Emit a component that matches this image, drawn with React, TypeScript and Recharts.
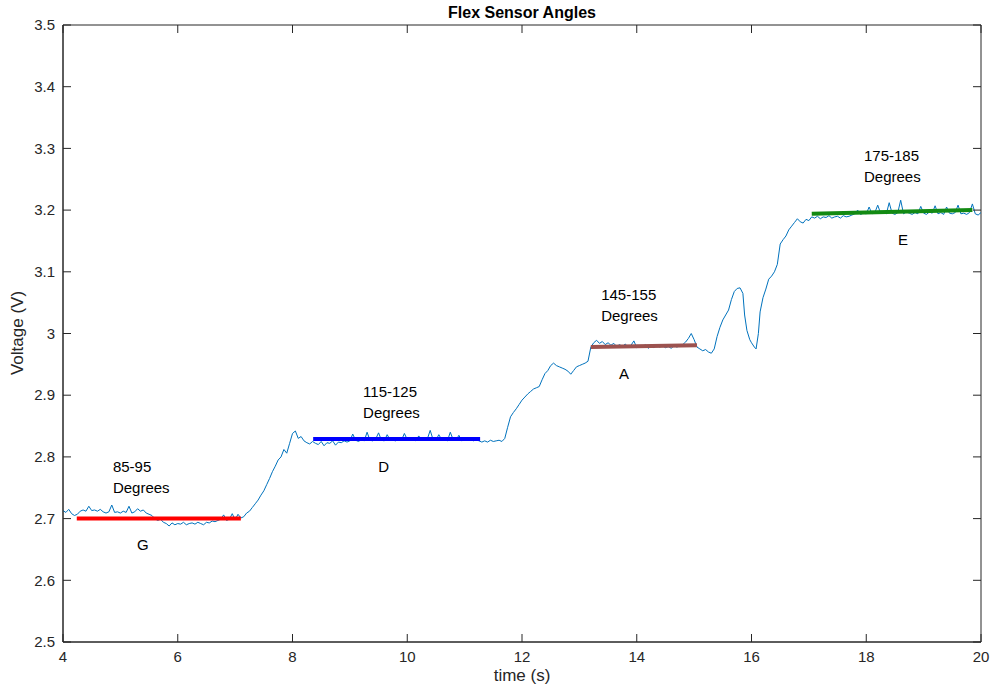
import { ComposedChart, Line, XAxis, YAxis, ReferenceDot, ReferenceArea } from "recharts";

const xTicks = [4, 6, 8, 10, 12, 14, 16, 18, 20];
const yTicks = [2.5, 2.6, 2.7, 2.8, 2.9, 3.0, 3.1, 3.2, 3.3, 3.4, 3.5];

// sensor reading: [time (s), voltage (V)]
const trace: [number, number][] = [
  [4.0, 2.713], [4.05, 2.71], [4.1, 2.715], [4.15, 2.708], [4.2, 2.705], [4.25, 2.707],
  [4.3, 2.712], [4.35, 2.714], [4.4, 2.712], [4.45, 2.72], [4.5, 2.713], [4.55, 2.714],
  [4.6, 2.712], [4.65, 2.715], [4.7, 2.711], [4.75, 2.709], [4.8, 2.711], [4.85, 2.722],
  [4.9, 2.71], [4.95, 2.711], [5.0, 2.709], [5.05, 2.712], [5.1, 2.71], [5.15, 2.72],
  [5.2, 2.709], [5.25, 2.711], [5.3, 2.716], [5.35, 2.712], [5.4, 2.714], [5.45, 2.709],
  [5.5, 2.707], [5.55, 2.705], [5.6, 2.7], [5.65, 2.697], [5.7, 2.699], [5.75, 2.694],
  [5.8, 2.692], [5.85, 2.688], [5.9, 2.693], [5.95, 2.69], [6.0, 2.692], [6.05, 2.691],
  [6.1, 2.694], [6.15, 2.69], [6.2, 2.692], [6.25, 2.693], [6.3, 2.691], [6.35, 2.694],
  [6.4, 2.692], [6.45, 2.69], [6.5, 2.694], [6.55, 2.693], [6.6, 2.696], [6.65, 2.695],
  [6.7, 2.697], [6.75, 2.699], [6.8, 2.706], [6.85, 2.697], [6.9, 2.699], [6.95, 2.708],
  [7.0, 2.698], [7.05, 2.707], [7.1, 2.701], [7.15, 2.703], [7.2, 2.709], [7.25, 2.712],
  [7.3, 2.718], [7.35, 2.724], [7.4, 2.73], [7.45, 2.738], [7.5, 2.745], [7.55, 2.755],
  [7.6, 2.765], [7.65, 2.776], [7.7, 2.785], [7.75, 2.795], [7.8, 2.8], [7.85, 2.812],
  [7.9, 2.806], [7.95, 2.822], [8.0, 2.838], [8.05, 2.842], [8.1, 2.83], [8.15, 2.833],
  [8.2, 2.826], [8.25, 2.823], [8.3, 2.821], [8.35, 2.825], [8.4, 2.822], [8.45, 2.82],
  [8.5, 2.825], [8.55, 2.818], [8.6, 2.823], [8.65, 2.822], [8.7, 2.826], [8.75, 2.819],
  [8.8, 2.824], [8.85, 2.823], [8.9, 2.826], [8.95, 2.824], [9.0, 2.826], [9.05, 2.837],
  [9.1, 2.827], [9.15, 2.825], [9.2, 2.828], [9.25, 2.826], [9.3, 2.84], [9.35, 2.827],
  [9.4, 2.826], [9.45, 2.829], [9.5, 2.839], [9.55, 2.827], [9.6, 2.826], [9.65, 2.836],
  [9.7, 2.828], [9.75, 2.827], [9.8, 2.826], [9.85, 2.829], [9.9, 2.827], [9.95, 2.838],
  [10.0, 2.828], [10.05, 2.827], [10.1, 2.829], [10.15, 2.826], [10.2, 2.834], [10.25, 2.828],
  [10.3, 2.827], [10.35, 2.829], [10.4, 2.843], [10.45, 2.828], [10.5, 2.827], [10.55, 2.836],
  [10.6, 2.828], [10.65, 2.829], [10.7, 2.826], [10.75, 2.84], [10.8, 2.828], [10.85, 2.827],
  [10.9, 2.835], [10.95, 2.826], [11.0, 2.828], [11.05, 2.827], [11.1, 2.829], [11.15, 2.826],
  [11.2, 2.828], [11.25, 2.826], [11.3, 2.824], [11.35, 2.826], [11.4, 2.824], [11.45, 2.827],
  [11.5, 2.825], [11.55, 2.826], [11.6, 2.827], [11.65, 2.825], [11.7, 2.83], [11.75, 2.848],
  [11.8, 2.865], [11.85, 2.872], [11.9, 2.878], [11.95, 2.885], [12.0, 2.892], [12.05, 2.897],
  [12.1, 2.902], [12.15, 2.906], [12.2, 2.91], [12.25, 2.912], [12.3, 2.914], [12.35, 2.925],
  [12.4, 2.935], [12.45, 2.94], [12.5, 2.948], [12.55, 2.952], [12.6, 2.948], [12.65, 2.946],
  [12.7, 2.944], [12.75, 2.942], [12.8, 2.939], [12.85, 2.934], [12.9, 2.94], [12.95, 2.946],
  [13.0, 2.948], [13.05, 2.95], [13.1, 2.952], [13.15, 2.955], [13.2, 2.978], [13.25, 2.985],
  [13.3, 2.989], [13.35, 2.984], [13.4, 2.987], [13.45, 2.982], [13.5, 2.985], [13.55, 2.981],
  [13.6, 2.984], [13.65, 2.979], [13.7, 2.982], [13.75, 2.979], [13.8, 2.983], [13.85, 2.978],
  [13.9, 2.981], [13.95, 2.988], [14.0, 2.977], [14.05, 2.98], [14.1, 2.978], [14.15, 2.982],
  [14.2, 2.976], [14.25, 2.979], [14.3, 2.977], [14.35, 2.981], [14.4, 2.978], [14.45, 2.98],
  [14.5, 2.977], [14.55, 2.979], [14.6, 2.976], [14.65, 2.98], [14.7, 2.978], [14.75, 2.98],
  [14.8, 2.982], [14.85, 2.986], [14.9, 2.992], [14.95, 3.0], [15.0, 2.99], [15.05, 2.978],
  [15.1, 2.975], [15.15, 2.972], [15.2, 2.974], [15.25, 2.97], [15.3, 2.968], [15.35, 2.975],
  [15.4, 2.995], [15.45, 3.01], [15.5, 3.022], [15.55, 3.03], [15.6, 3.038], [15.65, 3.055],
  [15.7, 3.068], [15.75, 3.073], [15.8, 3.074], [15.85, 3.065], [15.88, 3.03], [15.92, 3.005],
  [15.97, 2.99], [16.0, 2.985], [16.05, 2.978], [16.08, 2.975], [16.12, 3.0], [16.15, 3.035],
  [16.2, 3.058], [16.25, 3.072], [16.3, 3.088], [16.35, 3.093], [16.4, 3.1], [16.45, 3.112],
  [16.5, 3.145], [16.55, 3.152], [16.6, 3.158], [16.65, 3.168], [16.7, 3.174], [16.75, 3.18],
  [16.8, 3.186], [16.85, 3.181], [16.9, 3.179], [16.95, 3.185], [17.0, 3.183], [17.05, 3.189],
  [17.1, 3.187], [17.15, 3.19], [17.2, 3.186], [17.25, 3.189], [17.3, 3.188], [17.35, 3.191],
  [17.4, 3.187], [17.45, 3.189], [17.5, 3.19], [17.55, 3.187], [17.6, 3.191], [17.65, 3.189],
  [17.7, 3.19], [17.75, 3.192], [17.8, 3.194], [17.85, 3.2], [17.9, 3.193], [17.95, 3.195],
  [18.0, 3.194], [18.05, 3.205], [18.1, 3.194], [18.15, 3.196], [18.2, 3.208], [18.25, 3.195],
  [18.3, 3.197], [18.35, 3.194], [18.4, 3.212], [18.45, 3.195], [18.5, 3.193], [18.55, 3.196],
  [18.6, 3.216], [18.65, 3.194], [18.7, 3.197], [18.75, 3.195], [18.8, 3.193], [18.85, 3.196],
  [18.9, 3.194], [18.95, 3.206], [19.0, 3.195], [19.05, 3.193], [19.1, 3.197], [19.15, 3.195],
  [19.2, 3.207], [19.25, 3.194], [19.3, 3.196], [19.35, 3.193], [19.4, 3.205], [19.45, 3.195],
  [19.5, 3.194], [19.55, 3.196], [19.6, 3.208], [19.65, 3.194], [19.7, 3.195], [19.75, 3.193],
  [19.8, 3.196], [19.85, 3.21], [19.9, 3.194], [19.95, 3.192], [20.0, 3.196],
];

// fitted level for each held angle: [start, end] as [time, voltage]
const levelG: [number, number][] = [[4.24, 2.7], [7.1, 2.7]];
const levelD: [number, number][] = [[8.36, 2.829], [11.27, 2.829]];
const levelA: [number, number][] = [[13.2, 2.978], [15.05, 2.981]];
const levelE: [number, number][] = [[17.05, 3.194], [19.85, 3.2]];

const rangeNotes = [
  { t: 4.87, v: 2.784, text: "85-95" },
  { t: 9.23, v: 2.905, text: "115-125" },
  { t: 13.38, v: 3.062, text: "145-155" },
  { t: 17.96, v: 3.288, text: "175-185" },
];
const letterNotes = [
  { t: 5.39, v: 2.657, text: "G" },
  { t: 9.59, v: 2.784, text: "D" },
  { t: 13.78, v: 2.934, text: "A" },
  { t: 18.64, v: 3.152, text: "E" },
];

const toRows = (pts: [number, number][]) => pts.map(([t, v]) => ({ t, v }));

const axisColor = "#262626";
const font = '"Liberation Sans", Arial, Helvetica, sans-serif';

// plot box (matlab style: ticks point inward on all four sides)
const W = 990;
const H = 688;
const M = { top: 25, right: 9, bottom: 0, left: 0 };
const Y_AXIS_W = 63;
const X_AXIS_H = 46;
const PLOT_TOP = M.top;
const PLOT_RIGHT = W - M.right;
const TICK = 8;

function XTick(props: any) {
  const { x, y, payload } = props;
  return (
    <g>
      <line x1={x} x2={x} y1={y} y2={y - TICK} stroke={axisColor} />
      <line x1={x} x2={x} y1={PLOT_TOP} y2={PLOT_TOP + TICK} stroke={axisColor} />
      <text x={x} y={y + 9} dy="0.71em" textAnchor="middle" fill={axisColor} fontSize={15} fontFamily={font}>
        {payload.value}
      </text>
    </g>
  );
}

function YTick(props: any) {
  const { x, y, payload } = props;
  return (
    <g>
      <line x1={x} x2={x + TICK} y1={y} y2={y} stroke={axisColor} />
      <line x1={PLOT_RIGHT - TICK} x2={PLOT_RIGHT} y1={y} y2={y} stroke={axisColor} />
      <text x={x - 8} y={y} dy="0.35em" textAnchor="end" fill={axisColor} fontSize={15} fontFamily={font}>
        {String(+Number(payload.value).toFixed(1))}
      </text>
    </g>
  );
}

export default function App() {
  return (
    <div
      style={{
        position: "absolute",
        left: 0,
        top: 0,
        width: W,
        height: H,
        background: "#fff",
        fontFamily: font,
      }}
    >
      <ComposedChart width={W} height={H} margin={M} style={{ fontFamily: font }}>
        <XAxis
          type="number"
          dataKey="t"
          domain={[4, 20]}
          ticks={xTicks}
          interval={0}
          allowDataOverflow
          height={X_AXIS_H}
          tickSize={0}
          tickMargin={0}
          tickLine={false}
          stroke={axisColor}
          tick={<XTick />}
        />
        <YAxis
          type="number"
          domain={[2.5, 3.5]}
          ticks={yTicks}
          interval={0}
          allowDataOverflow
          width={Y_AXIS_W}
          tickSize={0}
          tickMargin={0}
          tickLine={false}
          stroke={axisColor}
          tick={<YTick />}
        />
        <ReferenceArea
          x1={4}
          x2={20}
          y1={2.5}
          y2={3.5}
          fill="none"
          fillOpacity={0}
          stroke={axisColor}
          strokeWidth={1}
        />
        <Line
          data={toRows(trace)}
          dataKey="v"
          stroke="#0072BD"
          strokeWidth={1}
          dot={false}
          isAnimationActive={false}
        />
        <Line data={toRows(levelG)} dataKey="v" stroke="#ff0000" strokeWidth={4} dot={false} isAnimationActive={false} />
        <Line data={toRows(levelD)} dataKey="v" stroke="#0000ff" strokeWidth={4} dot={false} isAnimationActive={false} />
        <Line data={toRows(levelA)} dataKey="v" stroke="#9c524f" strokeWidth={4} dot={false} isAnimationActive={false} />
        <Line data={toRows(levelE)} dataKey="v" stroke="#138a13" strokeWidth={4} dot={false} isAnimationActive={false} />
        {rangeNotes.map((n) => (
          <ReferenceDot
            key={n.text}
            x={n.t}
            y={n.v}
            r={0}
            shape={(p: any) => (
              <text x={p.cx} y={p.cy} fontSize={15} fill="#000" fontFamily={font}>
                <tspan x={p.cx} dy="0.35em">{n.text}</tspan>
                <tspan x={p.cx} dy="21">Degrees</tspan>
              </text>
            )}
          />
        ))}
        {letterNotes.map((n) => (
          <ReferenceDot
            key={n.text}
            x={n.t}
            y={n.v}
            r={0}
            shape={(p: any) => (
              <text x={p.cx} y={p.cy} dy="0.35em" textAnchor="middle" fontSize={15} fill="#000" fontFamily={font}>
                {n.text}
              </text>
            )}
          />
        ))}
      </ComposedChart>
      <div
        style={{
          position: "absolute",
          left: Y_AXIS_W,
          width: PLOT_RIGHT - Y_AXIS_W,
          top: 4,
          textAlign: "center",
          fontWeight: "bold",
          fontSize: 16,
          color: "#000",
        }}
      >
        Flex Sensor Angles
      </div>
      <div
        style={{
          position: "absolute",
          left: Y_AXIS_W,
          width: PLOT_RIGHT - Y_AXIS_W,
          top: 666,
          textAlign: "center",
          fontSize: 17,
          color: axisColor,
        }}
      >
        time (s)
      </div>
      <div
        style={{
          position: "absolute",
          left: 18,
          top: 333,
          transform: "translate(-50%, -50%) rotate(-90deg)",
          whiteSpace: "nowrap",
          fontSize: 17,
          color: axisColor,
        }}
      >
        Voltage (V)
      </div>
    </div>
  );
}
